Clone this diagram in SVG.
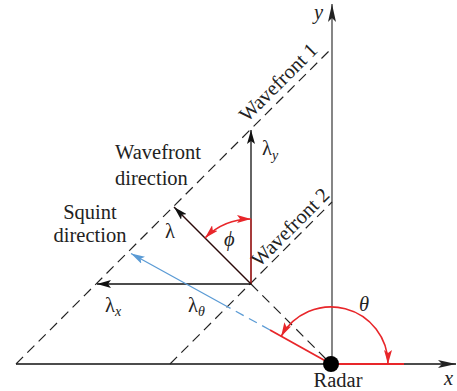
<svg xmlns="http://www.w3.org/2000/svg" width="457" height="391" viewBox="0 0 457 391">
<style>
text{font-family:"Liberation Serif","Times New Roman",serif;font-size:20.5px;fill:#222}
.it{font-style:italic}
.sub{font-size:14px;font-style:italic}
.dash{fill:none;stroke:#222;stroke-width:1.2;stroke-dasharray:10 6}
.vec{fill:none;stroke:#111;stroke-width:1.3}
.red{fill:none;stroke:#e8262a;stroke-width:1.6}
</style>
<defs>
<marker id="ak" viewBox="0 0 14 8" refX="14" refY="4" markerWidth="14" markerHeight="8" orient="auto" markerUnits="userSpaceOnUse"><path d="M0,0 L14,4 L0,8 L3,4 Z" fill="#111"/></marker>
<marker id="ab" viewBox="0 0 14 8" refX="14" refY="4" markerWidth="14" markerHeight="8" orient="auto" markerUnits="userSpaceOnUse"><path d="M0,0 L14,4 L0,8 L3,4 Z" fill="#5b9bd5"/></marker>
<marker id="ar" viewBox="0 0 14 8" refX="14" refY="4" markerWidth="14" markerHeight="8" orient="auto-start-reverse" markerUnits="userSpaceOnUse"><path d="M0,0 L14,4 L0,8 L3,4 Z" fill="#e8262a"/></marker>
<marker id="axh" viewBox="0 0 18 8" refX="18" refY="4" markerWidth="18" markerHeight="8" orient="auto" markerUnits="userSpaceOnUse"><path d="M0,0 L18,4 L0,8 L4,4 Z" fill="#222"/></marker>
</defs>
<g id="axes">
<line x1="16" y1="364" x2="456" y2="364" stroke="#111" stroke-width="1.3" marker-end="url(#axh)"/>
<line x1="332" y1="364" x2="332" y2="4" stroke="#444" stroke-width="1.3" marker-end="url(#axh)"/>
<text class="it" x="314" y="19">y</text>
<text class="it" x="444" y="385">x</text>
</g>
<g id="wavefront1">
<line class="dash" x1="16" y1="364" x2="332" y2="48"/>
<text x="283" y="87" text-anchor="middle" transform="rotate(-45 283 87)">Wavefront 1</text>
</g>
<g id="wavefront2">
<line class="dash" x1="170" y1="364" x2="332" y2="202"/>
<text x="295" y="232" text-anchor="middle" transform="rotate(-45 295 232)">Wavefront 2</text>
</g>
<g id="connectors">
<line class="dash" x1="251" y1="284" x2="328" y2="361"/>
<line class="vec" x1="251" y1="284" x2="251" y2="130" marker-end="url(#ak)"/>
<line x1="251" y1="284" x2="251" y2="219" stroke="#d42020" stroke-width="1.2"/>
<line class="vec" x1="251" y1="284" x2="97" y2="284" marker-end="url(#ak)"/>
<line x1="251" y1="284" x2="174" y2="207" stroke="#2a0808" stroke-width="1.4" marker-end="url(#ak)"/>
<line x1="228" y1="307" x2="131" y2="253.5" stroke="#5b9bd5" stroke-width="1.3" marker-end="url(#ab)"/>
<line x1="270" y1="330" x2="228" y2="307" stroke="#5b9bd5" stroke-width="1.3" stroke-dasharray="9 6"/>
<line x1="331" y1="364" x2="270" y2="330" stroke="#e8262a" stroke-width="1.8"/>
<line x1="331" y1="364" x2="404" y2="364" stroke="#e8262a" stroke-width="2"/>
<path class="red" d="M281.1,336.4 A57,57 0 0 1 388,364" marker-start="url(#ar)" marker-end="url(#ar)"/>
<path class="red" d="M205,238 A65,65 0 0 1 251,219" marker-start="url(#ar)" marker-end="url(#ar)"/>
</g>
<g id="radar">
<circle cx="331" cy="364" r="8" fill="#000"/>
<text x="338" y="387" text-anchor="middle">Radar</text>
</g>
<g id="labels">
<text x="115" y="159">Wavefront</text>
<text x="115" y="185">direction</text>
<text x="90" y="219" text-anchor="middle">Squint</text>
<text x="90" y="242" text-anchor="middle">direction</text>
<text x="165" y="238">λ</text>
<text x="262" y="155">λ<tspan class="sub" dy="5">y</tspan></text>
<text x="105" y="312">λ<tspan class="sub" dy="4">x</tspan></text>
<text x="188" y="312">λ<tspan class="sub" dy="4">θ</tspan></text>
<text class="it" x="224" y="246">ϕ</text>
<text class="it" x="359" y="311">θ</text>
</g>
</svg>
